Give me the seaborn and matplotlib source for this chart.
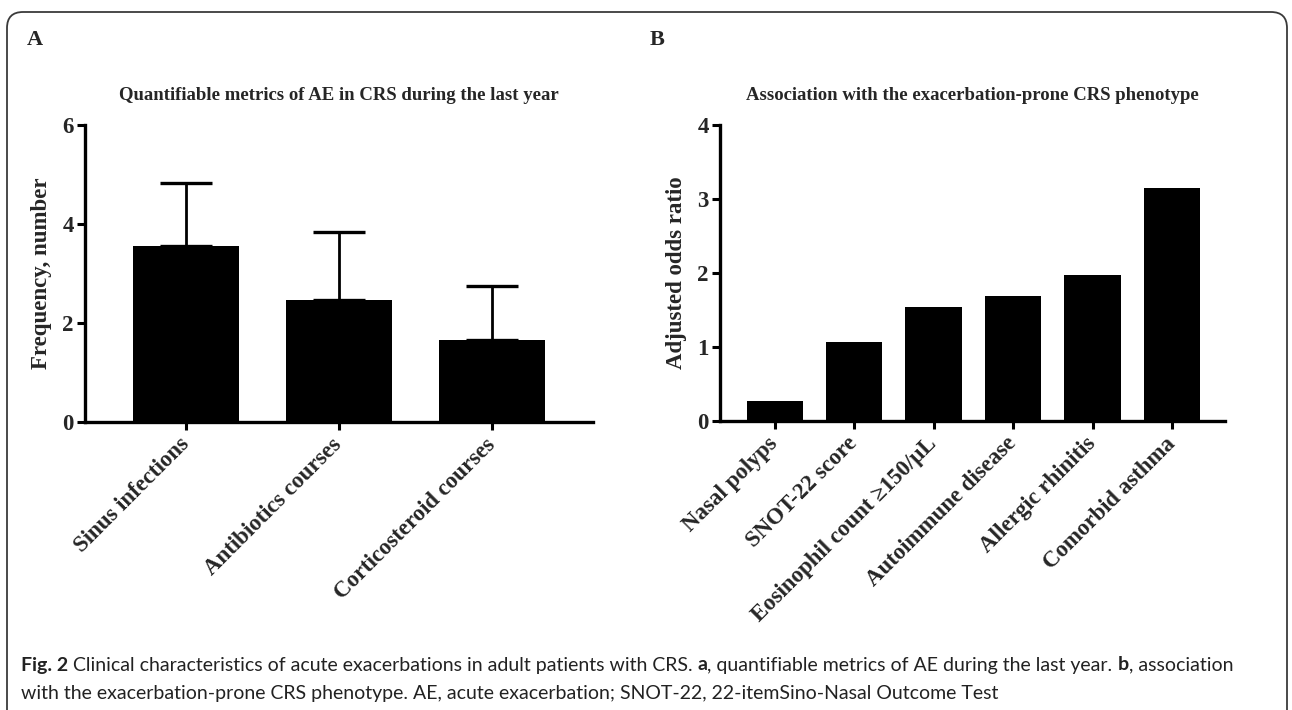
import numpy as np
import pandas as pd
import seaborn as sns
import matplotlib.pyplot as plt
from matplotlib.patches import FancyBboxPatch

# ---- data: panel A (mean + upper SD) ----
metrics = ['Sinus infections', 'Antibiotics courses', 'Corticosteroid courses']
metric_mean = [3.56, 2.46, 1.65]
metric_sd = [1.26, 1.38, 1.09]

# ---- data: panel B (adjusted odds ratio) ----
factors = ['Nasal polyps', 'SNOT-22 score', 'Eosinophil count \u2265150/\u03bcL',
           'Autoimmune disease', 'Allergic rhinitis', 'Comorbid asthma']
odds_ratio = [0.27, 1.07, 1.54, 1.69, 1.97, 3.15]

sns.set_style('ticks')
serif = ['Liberation Serif', 'DejaVu Serif']
plt.rcParams['font.family'] = serif
plt.rcParams['font.weight'] = 'bold'
plt.rcParams['axes.linewidth'] = 2.4
plt.rcParams['axes.edgecolor'] = 'black'

fig = plt.figure(figsize=(12.92, 7.10), dpi=100)
axA = fig.add_axes([0.0658, 0.4056, 0.3930, 0.4183])
axB = fig.add_axes([0.5573, 0.4070, 0.3910, 0.4169])

dfA = pd.DataFrame({'metric': metrics, 'mean': metric_mean, 'sd': metric_sd})
dfB = pd.DataFrame({'factor': factors, 'or': odds_ratio})

# error bars first (under the bars) so only the upper arm + cap shows
axA.errorbar(np.arange(len(metrics)), dfA['mean'], yerr=[np.zeros(len(metrics)), dfA['sd']],
             fmt='none', ecolor='black', elinewidth=2.0, capsize=19, capthick=2.4, zorder=0.5)
sns.barplot(data=dfA, x='metric', y='mean', color='black', saturation=1,
            width=0.69, errorbar=None, linewidth=0, ax=axA, zorder=2)

sns.barplot(data=dfB, x='factor', y='or', color='black', saturation=1,
            width=0.71, errorbar=None, linewidth=0, ax=axB)

panels = [
    (axA, 6, [0, 2, 4, 6], 'Frequency, number', 'Quantifiable metrics of AE in CRS during the last year',
     (-0.66, 2.66)),
    (axB, 4, [0, 1, 2, 3, 4], 'Adjusted odds ratio', 'Association with the exacerbation-prone CRS phenotype',
     (-0.69, 5.67)),
]
for ax, ymax, yt, ylab, ttl, xl in panels:
    ax.set_ylim(0, ymax)
    ax.set_xlim(*xl)
    ax.set_yticks(yt)
    ax.set_xlabel('')
    ax.set_ylabel(ylab, fontsize=16.5, fontweight='bold')
    ax.yaxis.set_label_coords(-0.065, 0.5)
    ax.set_title(ttl, fontsize=13.5, fontweight='bold', pad=18)
    sns.despine(ax=ax)
    ax.tick_params(axis='both', length=6, width=2.2, color='black', labelsize=16.5, pad=2)
    ax.tick_params(axis='x', pad=8)
    plt.setp(ax.get_xticklabels(), rotation=45, ha='right', va='center',
             rotation_mode='anchor', fontweight='bold')
    plt.setp(ax.get_yticklabels(), fontweight='bold')

fig.text(0.021, 0.944, 'A', fontsize=16, fontweight='bold', va='center')
fig.text(0.503, 0.944, 'B', fontsize=16, fontweight='bold', va='center')

# figure frame with rounded top corners
frame = FancyBboxPatch((0.07, -0.5), 12.80, 7.48, boxstyle='round,pad=0,rounding_size=0.16',
                       transform=fig.dpi_scale_trans, fill=False, ec='#3a3a3a', lw=1.3)
fig.patches.append(frame)

# caption with bold fragments
sans = ['Lato', 'DejaVu Sans']
renderer = fig.canvas.get_renderer()


def rich_line(x, y, parts, size=14):
    for s, bold in parts:
        t = fig.text(x, y, s, fontsize=size, family=sans, color='#222222',
                     fontweight='bold' if bold else 'normal', va='center')
        x += t.get_window_extent(renderer=renderer).width / fig.bbox.width


rich_line(0.016, 1 - 665 / 710, [
    ('Fig. 2', True),
    (' Clinical characteristics of acute exacerbations in adult patients with CRS. ', False),
    ('a', True),
    (', quantifiable metrics of AE during the last year. ', False),
    ('b', True),
    (', association', False),
])
rich_line(0.016, 1 - 693 / 710, [
    ('with the exacerbation-prone CRS phenotype. AE, acute exacerbation; SNOT-22, 22-itemSino-Nasal Outcome Test', False),
])

fig.savefig('out.png', dpi=100)
